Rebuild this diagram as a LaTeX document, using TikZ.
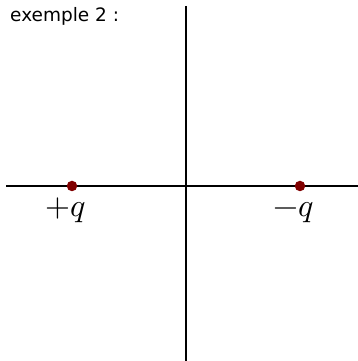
\documentclass[tikz,border=0pt]{standalone}
\usepackage{fontspec}
\setmainfont{DejaVu Sans}
\usepackage{unicode-math}
\setmathfont{Latin Modern Math}
\definecolor{chargered}{RGB}{128,0,0}
\begin{document}
\begin{tikzpicture}[x=1pt,y=1pt,
  axis/.style={line width=1.4pt},
  charge/.style={circle,fill=chargered,inner sep=0pt,minimum size=10.5pt},
  lbl/.style={font=\fontsize{32}{35}\selectfont}]
\useasboundingbox (0,0) rectangle (358,361);
\coordinate (xl) at (6,175);
\coordinate (xr) at (358,175);
\coordinate (yt) at (186,355);
\coordinate (yb) at (186,0);
\draw[axis] (xl) -- (xr);
\draw[axis] (yt) -- (yb);
\node[charge] (p) at (72,175) {};
\node[charge] (n) at (300,175) {};
\node[lbl,anchor=base] (pl) at (66,144) {$+q$};
\node[lbl,anchor=base] (nl) at (294,144) {$-q$};
\node[anchor=base west,font=\fontsize{18.5}{22}\selectfont,inner sep=0pt] (t) at (10,339) {exemple 2 :};
\end{tikzpicture}
\end{document}
